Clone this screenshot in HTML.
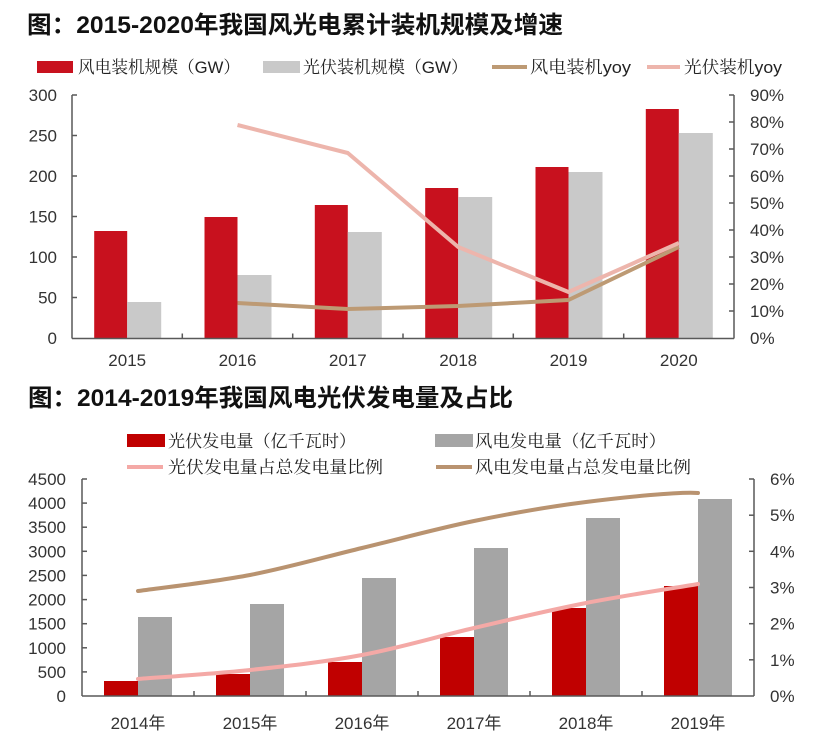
<!DOCTYPE html>
<html>
<head>
<meta charset="utf-8">
<style>
  html,body{margin:0;padding:0;background:#fff;}
  svg{display:block;}
  .t{font-family:"Liberation Sans","Noto Sans CJK SC",sans-serif;font-weight:bold;fill:#111;}
  .lg{font-family:"Liberation Sans","Noto Serif CJK SC",serif;fill:#222;}
  .ax{font-family:"Liberation Sans",sans-serif;font-size:17px;fill:#333;}
  .axc{font-family:"Liberation Sans","Noto Sans CJK SC",sans-serif;font-size:17px;fill:#333;}
</style>
</head>
<body>
<svg width="818" height="754" viewBox="0 0 818 754" xmlns="http://www.w3.org/2000/svg">
  <rect width="818" height="754" fill="#fff"/>

  <!-- ===== TOP CHART ===== -->
  <text class="t" x="27" y="33" font-size="24" textLength="536" lengthAdjust="spacingAndGlyphs">图：2015-2020年我国风光电累计装机规模及增速</text>

  <!-- legend -->
  <rect x="37" y="61" width="36" height="12" fill="#C8111E"/>
  <text class="lg" x="78" y="73" font-size="17" textLength="162" lengthAdjust="spacingAndGlyphs">风电装机规模（GW）</text>
  <rect x="263" y="61" width="37" height="12" fill="#C9C9C9"/>
  <text class="lg" x="303" y="73" font-size="17" textLength="165" lengthAdjust="spacingAndGlyphs">光伏装机规模（GW）</text>
  <line x1="492" y1="67" x2="527" y2="67" stroke="#BD9A74" stroke-width="4"/>
  <text class="lg" x="530" y="73" font-size="17" textLength="101" lengthAdjust="spacingAndGlyphs">风电装机yoy</text>
  <line x1="647" y1="67" x2="680" y2="67" stroke="#EDB5AC" stroke-width="4"/>
  <text class="lg" x="684" y="73" font-size="17" textLength="98" lengthAdjust="spacingAndGlyphs">光伏装机yoy</text>

  <!-- bars -->
  <g fill="#C8111E">
    <rect x="94.2" y="231" width="33" height="107.5"/>
    <rect x="204.5" y="217" width="33" height="121.5"/>
    <rect x="314.8" y="205" width="33" height="133.5"/>
    <rect x="425.2" y="188" width="33" height="150.5"/>
    <rect x="535.5" y="167" width="33" height="171.5"/>
    <rect x="645.8" y="109" width="33" height="229.5"/>
  </g>
  <g fill="#C9C9C9">
    <rect x="127.2" y="302" width="34" height="36.5"/>
    <rect x="237.5" y="275" width="34" height="63.5"/>
    <rect x="347.8" y="232" width="34" height="106.5"/>
    <rect x="458.2" y="197" width="34" height="141.5"/>
    <rect x="568.5" y="172" width="34" height="166.5"/>
    <rect x="678.8" y="133" width="34" height="205.5"/>
  </g>

  <!-- lines -->
  <polyline points="237.5,303 347.8,309 458.2,306 568.5,300 678.8,247" fill="none" stroke="#BD9A74" stroke-width="4" stroke-linejoin="round"/>
  <polyline points="237.5,125 347.8,153 458.2,247 568.5,292 678.8,243" fill="none" stroke="#EDB5AC" stroke-width="4" stroke-linejoin="round"/>

  <!-- axes -->
  <g stroke="#595959" stroke-width="1.5" fill="none">
    <line x1="72" y1="95" x2="72" y2="338.5"/>
    <line x1="72" y1="338.5" x2="734" y2="338.5"/>
    <line x1="734" y1="95" x2="734" y2="338.5"/>
    <!-- left ticks -->
    <line x1="72" y1="95" x2="77" y2="95"/>
    <line x1="72" y1="135.5" x2="77" y2="135.5"/>
    <line x1="72" y1="176" x2="77" y2="176"/>
    <line x1="72" y1="216.5" x2="77" y2="216.5"/>
    <line x1="72" y1="257" x2="77" y2="257"/>
    <line x1="72" y1="297.5" x2="77" y2="297.5"/>
    <!-- right ticks -->
    <line x1="729" y1="95" x2="734" y2="95"/>
    <line x1="729" y1="122" x2="734" y2="122"/>
    <line x1="729" y1="149" x2="734" y2="149"/>
    <line x1="729" y1="176" x2="734" y2="176"/>
    <line x1="729" y1="203" x2="734" y2="203"/>
    <line x1="729" y1="230" x2="734" y2="230"/>
    <line x1="729" y1="257" x2="734" y2="257"/>
    <line x1="729" y1="284" x2="734" y2="284"/>
    <line x1="729" y1="311" x2="734" y2="311"/>
    <!-- x ticks -->
    <line x1="182.3" y1="338.5" x2="182.3" y2="333.5"/>
    <line x1="292.7" y1="338.5" x2="292.7" y2="333.5"/>
    <line x1="403" y1="338.5" x2="403" y2="333.5"/>
    <line x1="513.3" y1="338.5" x2="513.3" y2="333.5"/>
    <line x1="623.7" y1="338.5" x2="623.7" y2="333.5"/>
  </g>

  <!-- left labels -->
  <g class="ax" text-anchor="end">
    <text x="57" y="101">300</text>
    <text x="57" y="141.5">250</text>
    <text x="57" y="182">200</text>
    <text x="57" y="222.5">150</text>
    <text x="57" y="263">100</text>
    <text x="57" y="303.5">50</text>
    <text x="57" y="344">0</text>
  </g>
  <!-- right labels -->
  <g class="ax">
    <text x="750" y="101">90%</text>
    <text x="750" y="128">80%</text>
    <text x="750" y="155">70%</text>
    <text x="750" y="182">60%</text>
    <text x="750" y="209">50%</text>
    <text x="750" y="236">40%</text>
    <text x="750" y="263">30%</text>
    <text x="750" y="290">20%</text>
    <text x="750" y="317">10%</text>
    <text x="750" y="344">0%</text>
  </g>
  <!-- x labels -->
  <g class="ax" text-anchor="middle">
    <text x="127.2" y="366">2015</text>
    <text x="237.5" y="366">2016</text>
    <text x="347.8" y="366">2017</text>
    <text x="458.2" y="366">2018</text>
    <text x="568.5" y="366">2019</text>
    <text x="678.8" y="366">2020</text>
  </g>

  <!-- ===== BOTTOM CHART ===== -->
  <text class="t" x="28" y="406" font-size="24" textLength="485" lengthAdjust="spacingAndGlyphs">图：2014-2019年我国风电光伏发电量及占比</text>

  <!-- legend -->
  <rect x="127" y="434" width="38" height="13" fill="#C00000"/>
  <text class="lg" x="168" y="447" font-size="17" textLength="188" lengthAdjust="spacingAndGlyphs">光伏发电量（亿千瓦时）</text>
  <rect x="435" y="434" width="38" height="13" fill="#A5A5A5"/>
  <text class="lg" x="475" y="447" font-size="17" textLength="191" lengthAdjust="spacingAndGlyphs">风电发电量（亿千瓦时）</text>
  <line x1="127" y1="467" x2="163" y2="467" stroke="#F4A9A6" stroke-width="4"/>
  <text class="lg" x="168" y="473" font-size="17" textLength="215" lengthAdjust="spacingAndGlyphs">光伏发电量占总发电量比例</text>
  <line x1="436" y1="467" x2="472" y2="467" stroke="#B99370" stroke-width="4"/>
  <text class="lg" x="475" y="473" font-size="17" textLength="216" lengthAdjust="spacingAndGlyphs">风电发电量占总发电量比例</text>

  <!-- bars -->
  <g fill="#C00000">
    <rect x="104" y="681" width="34" height="15"/>
    <rect x="216" y="674" width="34" height="22"/>
    <rect x="328" y="662" width="34" height="34"/>
    <rect x="440" y="637" width="34" height="59"/>
    <rect x="552" y="608" width="34" height="88"/>
    <rect x="664" y="586" width="34" height="110"/>
  </g>
  <g fill="#A5A5A5">
    <rect x="138" y="617" width="34" height="79"/>
    <rect x="250" y="604" width="34" height="92"/>
    <rect x="362" y="578" width="34" height="118"/>
    <rect x="474" y="548" width="34" height="148"/>
    <rect x="586" y="518" width="34" height="178"/>
    <rect x="698" y="499" width="34" height="197"/>
  </g>

  <!-- lines (smoothed) -->
  <path d="M138,591 C156.7,588.3 212.7,582.2 250,575 C287.3,567.8 324.7,557 362,548 C399.3,539 436.7,528.7 474,521 C511.3,513.3 548.7,506.7 586,502 C623.3,497.3 679.3,491.5 698,493" fill="none" stroke="#B99370" stroke-width="4" stroke-linecap="round"/>
  <path d="M138,679 C156.7,677.5 212.7,674 250,670 C287.3,666 324.7,662 362,655 C399.3,648 436.7,636.7 474,628 C511.3,619.3 548.7,610.3 586,603 C623.3,595.7 679.3,587.2 698,584" fill="none" stroke="#F4A9A6" stroke-width="4" stroke-linecap="round"/>

  <!-- axes -->
  <g stroke="#595959" stroke-width="1.5" fill="none">
    <line x1="82" y1="479" x2="82" y2="696"/>
    <line x1="82" y1="696" x2="754" y2="696"/>
    <line x1="754" y1="479" x2="754" y2="696"/>
    <!-- left ticks -->
    <line x1="82" y1="479" x2="87" y2="479"/>
    <line x1="82" y1="503.1" x2="87" y2="503.1"/>
    <line x1="82" y1="527.2" x2="87" y2="527.2"/>
    <line x1="82" y1="551.3" x2="87" y2="551.3"/>
    <line x1="82" y1="575.4" x2="87" y2="575.4"/>
    <line x1="82" y1="599.6" x2="87" y2="599.6"/>
    <line x1="82" y1="623.7" x2="87" y2="623.7"/>
    <line x1="82" y1="647.8" x2="87" y2="647.8"/>
    <line x1="82" y1="671.9" x2="87" y2="671.9"/>
    <!-- right ticks -->
    <line x1="749" y1="479" x2="754" y2="479"/>
    <line x1="749" y1="515.2" x2="754" y2="515.2"/>
    <line x1="749" y1="551.3" x2="754" y2="551.3"/>
    <line x1="749" y1="587.5" x2="754" y2="587.5"/>
    <line x1="749" y1="623.7" x2="754" y2="623.7"/>
    <line x1="749" y1="659.8" x2="754" y2="659.8"/>
    <!-- x ticks -->
    <line x1="194" y1="696" x2="194" y2="691"/>
    <line x1="306" y1="696" x2="306" y2="691"/>
    <line x1="418" y1="696" x2="418" y2="691"/>
    <line x1="530" y1="696" x2="530" y2="691"/>
    <line x1="642" y1="696" x2="642" y2="691"/>
  </g>

  <!-- left labels -->
  <g class="ax" text-anchor="end">
    <text x="66" y="485">4500</text>
    <text x="66" y="509.1">4000</text>
    <text x="66" y="533.2">3500</text>
    <text x="66" y="557.3">3000</text>
    <text x="66" y="581.4">2500</text>
    <text x="66" y="605.6">2000</text>
    <text x="66" y="629.7">1500</text>
    <text x="66" y="653.8">1000</text>
    <text x="66" y="677.9">500</text>
    <text x="66" y="702">0</text>
  </g>
  <!-- right labels -->
  <g class="ax">
    <text x="770" y="485">6%</text>
    <text x="770" y="521.2">5%</text>
    <text x="770" y="557.3">4%</text>
    <text x="770" y="593.5">3%</text>
    <text x="770" y="629.7">2%</text>
    <text x="770" y="665.8">1%</text>
    <text x="770" y="702">0%</text>
  </g>
  <!-- x labels -->
  <g class="axc" text-anchor="middle">
    <text x="138" y="729">2014年</text>
    <text x="250" y="729">2015年</text>
    <text x="362" y="729">2016年</text>
    <text x="474" y="729">2017年</text>
    <text x="586" y="729">2018年</text>
    <text x="698" y="729">2019年</text>
  </g>
</svg>
</body>
</html>
